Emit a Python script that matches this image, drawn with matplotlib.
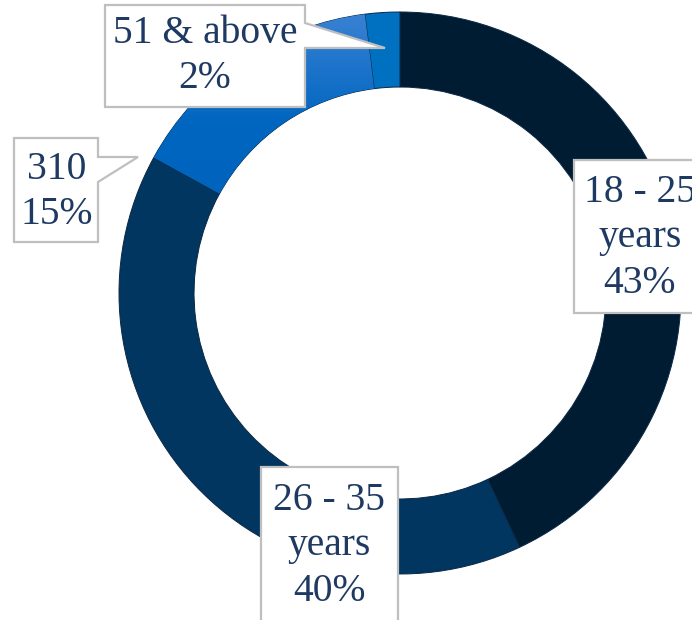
import numpy as np
import matplotlib
matplotlib.use("Agg")
import matplotlib.pyplot as plt
from matplotlib.patches import Polygon
from matplotlib.colors import LinearSegmentedColormap

# Age groups and their shares
categories = ["18 - 25\nyears", "26 - 35\nyears", "310", "51 & above"]
shares = [43, 40, 15, 2]
colors = ["#001c33", "#003660", "#0066c0", "#0070c0"]

W, H = 692, 620
fig = plt.figure(figsize=(W / 100, H / 100), dpi=100)
ax = fig.add_axes([0, 0, 1, 1])

cx, cy, R = 400, 327, 281
wedges, _ = ax.pie(shares, colors=colors, startangle=90, counterclock=False,
                   center=(cx, cy), radius=R,
                   wedgeprops=dict(width=R * 0.267, edgecolor="#0b2744", linewidth=0.7))
ax.set_xlim(0, W)
ax.set_ylim(0, H)
ax.set_aspect("equal")
ax.axis("off")

# Vertical gradient fill for the third ring segment
grad = LinearSegmentedColormap.from_list("seg", ["#0063be", "#0066c0", "#3a82d4"])
g = np.linspace(0, 1, 256).reshape(-1, 1)
img = ax.imshow(g, cmap=grad, origin="lower", aspect="auto",
                extent=(cx - R, cx, cy + 60, cy + R), zorder=1.5)
img.set_clip_path(wedges[2])

text_color = "#1f3a62"
font = dict(family="Liberation Serif", size=28.5, color=text_color,
            ha="center", va="center", linespacing=1.3)

callouts = [
    # outline vertices, text centre
    ([(574, 460), (720, 460), (720, 307), (574, 307)], (640, 382)),
    ([(261, 153), (398, 153), (398, -20), (261, -20)], (329, 74)),
    ([(14, 482), (98, 482), (98, 463), (138, 463), (98, 438), (98, 378), (14, 378)], (57, 428)),
    ([(105, 615), (305, 615), (305, 597), (385, 572), (305, 572), (305, 513), (105, 513)], (205, 564)),
]

for cat, val, (verts, (tx, ty)) in zip(categories, shares, callouts):
    ax.add_patch(Polygon(verts, closed=True, facecolor="white",
                         edgecolor="#bfbfbf", linewidth=1.6, zorder=3))
    ax.text(tx, ty, f"{cat}\n{val}%", zorder=4, **font)

fig.savefig("out.png", dpi=100, facecolor="white")
